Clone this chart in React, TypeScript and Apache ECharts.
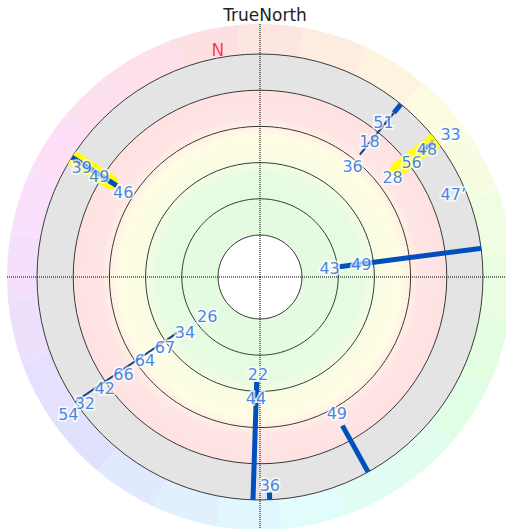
import React, { useEffect, useRef } from 'react';
import * as echarts from 'echarts';

const TITLE = 'TrueNorth';
const NORTH_LABEL = 'N';
// [radius, bearing]
const NORTH_POINT: [number, number] = [104.4, 349.5];
const RADIUS_MIN = 0;
const RADIUS_MAX = 100;
const RADIUS_INTERVAL = 20;
const HUE_SEGMENT_COUNT = 24;

// [radiusStart, radiusEnd, bearing]
const highlightSegments: [number, number, number][] = [
  [73.0, 103.5, 52.0],
  [74.5, 102.8, 302.5],
];
const thickSegments: [number, number, number][] = [
  [93.9, 101.7, 39.2],
  [89.0, 98.3, 52.2],
  [21.0, 101.7, 82.6],
  [70.7, 101.7, 302.5],
  [34.8, 101.1, 181.8],
  [96.0, 101.1, 177.5],
  [70.7, 101.1, 151.0],
];
const thinSegments: [number, number, number][] = [
  [64.1, 93.9, 39.2],
  [32.0, 100.5, 236.0],
];

// [radius, bearing, text]
const labelPoints: [number, number, string][] = [
  [56.4, 40.0, '36'],
  [72.9, 39.0, '18'],
  [86.2, 38.6, '51'],
  [108.3, 53.2, '33'],
  [92.8, 52.7, '48'],
  [81.8, 52.9, '56'],
  [68.5, 53.0, '28'],
  [92.8, 67.0, '47’'],
  [15.5, 83.4, '43'],
  [33.1, 83.2, '49'],
  [81.6, 302.0, '49'],
  [92.3, 301.5, '39'],
  [65.7, 301.8, '46'],
  [13.3, 233.0, '26'],
  [28.2, 233.7, '34'],
  [42.0, 233.6, '67'],
  [55.2, 234.2, '64'],
  [69.6, 234.4, '66'],
  [82.3, 234.4, '42'],
  [96.1, 234.2, '32'],
  [107.2, 234.3, '54'],
  [30.4, 181.2, '22'],
  [44.2, 181.9, '44'],
  [92.3, 177.3, '36'],
  [63.5, 150.7, '49'],
];

function hslHex(h: number, s: number, l: number): string {
  const a = s * Math.min(l, 1 - l);
  const f = (n: number) => {
    const k = (n + h / 30) % 12;
    const c = l - a * Math.max(Math.min(k - 3, 9 - k, 1), -1);
    return Math.round(255 * c).toString(16).padStart(2, '0');
  };
  return '#' + f(0) + f(8) + f(4);
}

const CENTER: [number, number] = [260, 277];
const FONT = 'DejaVu Sans, Verdana, sans-serif';

export default function App() {
  const ref = useRef<HTMLDivElement>(null);
  useEffect(() => {
    document.body.style.margin = '0';
    if (!ref.current) return;
    const chart = echarts.init(ref.current, null, { renderer: 'svg' });

    const segStart = 10;
    const segSize = 360 / HUE_SEGMENT_COUNT;
    const hueData = Array.from({ length: HUE_SEGMENT_COUNT }, (_, i) => ({
      value: 1,
      itemStyle: {
        color: hslHex((segStart + segSize * (i + 0.5) + 10) % 360, 0.85, 0.935),
      },
    }));

    const lineSeries = (
      segs: [number, number, number][],
      color: string,
      width: number,
      cap: string,
      z: number
    ) =>
      segs.map((s) => ({
        type: 'line',
        coordinateSystem: 'polar',
        polarIndex: 0,
        data: [
          [s[0], s[2]],
          [s[1], s[2]],
        ],
        symbol: 'none',
        clip: false,
        silent: true,
        z,
        lineStyle: { color, width, cap },
      }));

    const option: any = {
      animation: false,
      title: {
        text: TITLE,
        left: 260,
        top: 1,
        textAlign: 'center',
        textStyle: { fontSize: 17, fontWeight: 'normal', color: '#222', fontFamily: FONT },
      },
      polar: [
        { center: CENTER, radius: [42, 223] },
        { center: CENTER, radius: [0, 253] },
      ],
      angleAxis: [
        {
          polarIndex: 0,
          type: 'value',
          min: 0,
          max: 360,
          startAngle: 90,
          clockwise: true,
          axisLine: { show: false },
          axisTick: { show: false },
          axisLabel: { show: false },
          splitLine: { show: false },
        },
        {
          polarIndex: 1,
          type: 'value',
          min: 0,
          max: 360,
          interval: 90,
          startAngle: 90,
          clockwise: true,
          z: 4,
          axisLine: { show: false },
          axisTick: { show: false },
          axisLabel: { show: false },
          splitLine: { show: true, lineStyle: { color: '#000', width: 1, type: 'dotted' } },
        },
      ],
      radiusAxis: [
        {
          polarIndex: 0,
          type: 'value',
          min: RADIUS_MIN,
          max: RADIUS_MAX,
          interval: RADIUS_INTERVAL,
          z: 3,
          axisLine: { show: false },
          axisTick: { show: false },
          axisLabel: { show: false },
          splitLine: { show: true, lineStyle: { color: '#3a3a3a', width: 1 } },
        },
        {
          polarIndex: 1,
          type: 'value',
          min: 0,
          max: 1,
          axisLine: { show: false },
          axisTick: { show: false },
          axisLabel: { show: false },
          splitLine: { show: false },
        },
      ],
      series: [
        {
          type: 'pie',
          center: CENTER,
          radius: [223, 253],
          startAngle: 90 - segStart,
          clockwise: true,
          silent: true,
          z: 1,
          label: { show: false },
          labelLine: { show: false },
          itemStyle: { borderWidth: 0 },
          emphasis: { disabled: true },
          data: hueData,
        },
        {
          type: 'pie',
          center: CENTER,
          radius: [42, 223],
          silent: true,
          z: 1,
          label: { show: false },
          labelLine: { show: false },
          emphasis: { disabled: true },
          data: [
            {
              value: 1,
              itemStyle: {
                borderWidth: 0,
                color: new echarts.graphic.RadialGradient(0.5, 0.5, 0.5, [
                  { offset: 0, color: '#e3fbe0' },
                  { offset: 0.45, color: '#e6fbe2' },
                  { offset: 0.55, color: '#fbfde2' },
                  { offset: 0.63, color: '#fffde4' },
                  { offset: 0.71, color: '#ffe6e5' },
                  { offset: 0.834, color: '#fee2e2' },
                  { offset: 0.84, color: '#e4e4e4' },
                  { offset: 1, color: '#e4e4e4' },
                ]),
              },
            },
          ],
        },
        ...lineSeries(highlightSegments, '#ffff00', 15, 'round', 5),
        ...lineSeries(thickSegments, '#0050bd', 5, 'butt', 6),
        ...lineSeries(thinSegments, '#173f85', 2, 'butt', 6),
        {
          type: 'scatter',
          coordinateSystem: 'polar',
          polarIndex: 0,
          clip: false,
          silent: true,
          symbolSize: 1,
          z: 10,
          itemStyle: { color: 'rgba(0,0,0,0)' },
          label: {
            show: true,
            position: 'inside',
            formatter: '{b}',
            color: '#1568dc',
            fontSize: 16,
            fontFamily: FONT,
            textBorderColor: 'rgba(255,255,255,0.92)',
            textBorderWidth: 3.5,
          },
          data: labelPoints.map((p) => ({ value: [p[0], p[1]], name: p[2] })),
        },
        {
          type: 'scatter',
          coordinateSystem: 'polar',
          polarIndex: 0,
          clip: false,
          silent: true,
          symbolSize: 1,
          z: 10,
          itemStyle: { color: 'rgba(0,0,0,0)' },
          label: {
            show: true,
            position: 'inside',
            formatter: '{b}',
            color: '#ff1010',
            fontSize: 17,
            fontFamily: FONT,
          },
          data: [{ value: NORTH_POINT, name: NORTH_LABEL }],
        },
      ],
    };
    chart.setOption(option);
    return () => chart.dispose();
  }, []);
  return <div ref={ref} style={{ width: 506, height: 529 }} />;
}
